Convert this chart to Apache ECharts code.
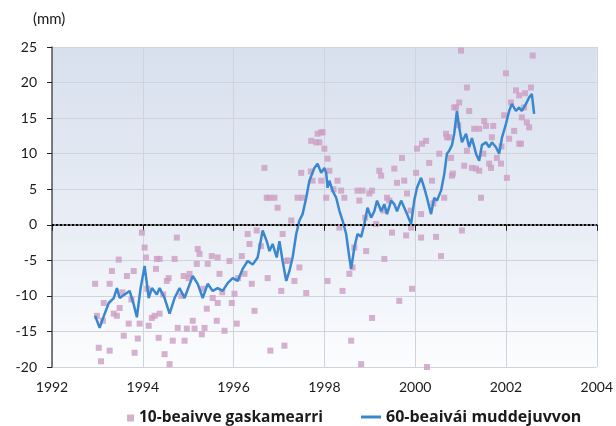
<!DOCTYPE html>
<html>
<head>
<meta charset="utf-8">
<script src="https://cdn.jsdelivr.net/npm/echarts@6/dist/echarts.min.js"></script>
<style>html,body{margin:0;padding:0;background:#fff;}#c{width:616px;height:426px;}</style>
</head>
<body>
<div id="c"></div>
<script>
var xTicks = [1992, 1994, 1996, 1998, 2000, 2002, 2004];
var yTicks = [-20, -15, -10, -5, 0, 5, 10, 15, 20, 25];
var seriesNames = ['10-beaivve gaskamearri', '60-beaivái muddejuvvon'];

// 10-day means [decimal year, mm]
var tenDay = [
[1992.95,-8.3],[1992.99,-12.8],[1993.03,-17.3],[1993.08,-19.2],[1993.12,-13.5],[1993.14,-11],[1993.27,-17.7],[1993.32,-6.5],[1993.27,-8.3],[1993.36,-12.5],[1993.43,-12.8],[1993.47,-4.9],[1993.49,-11.7],[1993.55,-9.5],[1993.58,-15.6],[1993.65,-7.2],[1993.69,-13.9],[1993.75,-10.5],[1993.80,-6.5],[1993.82,-18],[1993.89,-16],[1993.93,-13.9],[1993.98,-1.1],[1994.04,-3.2],[1994.07,-4.6],[1994.10,-9],[1994.13,-14.2],[1994.20,-13.1],[1994.26,-12.8],[1994.31,-4.8],[1994.37,-4.8],[1994.37,-12.5],[1994.29,-6.2],[1994.35,-15.9],[1994.45,-9.8],[1994.48,-18.2],[1994.59,-19.6],[1994.53,-7.9],[1994.57,-7.5],[1994.66,-16.3],[1994.70,-4.8],[1994.75,-1.8],[1994.77,-14.5],[1994.85,-10],[1994.90,-7.2],[1994.92,-16.3],[1995.01,-7.5],[1994.97,-14.6],
[1995.03,-6.9],[1995.10,-13.5],[1995.14,-14.6],[1995.19,-5.5],[1995.21,-3.4],[1995.25,-4.1],[1995.30,-15.4],[1995.33,-9],[1995.36,-14.5],[1995.41,-11.8],[1995.43,-5.5],[1995.52,-4.4],[1995.54,-10.3],[1995.63,-13.5],[1995.65,-4.6],[1995.65,-11],[1995.69,-6.9],[1995.75,-9.5],[1995.80,-14.9],[1995.91,-5.1],[1995.96,-11],[1996.02,-9.7],[1996.07,-13.9],[1996.10,-7.5],[1996.18,-4.4],[1996.24,-6.9],[1996.31,-1.3],[1996.35,-2.7],[1996.40,-8.3],[1996.46,-12.1],[1996.51,-0.8],[1996.60,-3],[1996.68,8.0],[1996.73,3.8],[1996.79,3.8],[1996.90,3.8],[1996.97,2.4],[1996.75,-7.5],[1996.81,-17.7],[1997.05,-9.3],[1997.08,-1.3],[1997.12,-17],[1997.16,-5.1],[1997.20,-5],[1997.27,0.6],[1997.34,-7.9],[1997.41,3.8],[1997.45,-6],[1997.49,7.3],[1997.52,3.8],[1997.60,-9.6],[1997.70,7.5],[1997.71,11.8],[1997.74,6.2],[1997.82,11.6],[1997.85,12.8],[1997.93,13],[1997.93,6.2],
[1997.96,13],[1997.89,11.6],[1998.00,10.7],[1998.07,9.3],[1998.11,7.6],[1998.04,3.8],[1998.20,5],[1998.29,6.2],[1998.37,4.8],[1998.44,3.8],[1998.07,-7.9],[1998.33,-0.4],[1998.40,-9.3],[1998.55,-6.9],[1998.59,-16.3],[1998.62,-6],[1998.66,-3.2],[1998.73,4.8],[1998.77,3.4],[1998.81,-19.6],[1998.84,4.8],[1998.90,1],[1998.92,-3.7],[1998.99,4.4],[1999.05,4.8],[1999.05,-13.1],[1999.14,0.1],[1999.21,7.6],[1999.25,6.9],[1999.30,2],[1999.32,-4.8],[1999.38,3.8],[1999.43,3.4],[1999.49,-1.1],[1999.54,7.9],[1999.60,5.9],[1999.65,-10.7],[1999.71,9.4],[1999.76,6.2],[1999.80,-1.5],[1999.82,4.4],[1999.90,2],[1999.91,-0.4],[1999.93,-9],[2000.02,7.3],[2000.04,10.7],[2000.13,1.5],[2000.13,-1.8],[2000.15,11.4],[2000.24,11.8],[2000.26,-20],[2000.31,8.7],[2000.37,6.2],[2000.40,3],[2000.46,-1.7],[2000.53,10],[2000.57,-4.4],[2000.64,3.8],[2000.68,12.8],[2000.70,12.3],[2000.81,6.9],[2000.90,16.5],
[2001.01,24.5],[2000.86,16.5],[2000.95,14],[2000.97,17.2],[2000.75,12.3],[2000.79,9.4],[2000.83,7.2],[2001.03,-0.8],[2001.14,19.3],[2001.19,16],[2001.14,10.4],[2001.08,8.3],[2001.25,8],[2001.34,7.9],[2001.41,7.6],[2001.45,3.8],[2001.30,13.5],[2001.41,13.5],[2001.50,10],[2001.52,14.6],[2001.56,13.9],[2001.63,8.6],[2001.67,8],[2001.69,12.3],[2001.72,13.9],[2001.80,9.4],[2001.89,8.6],[2001.90,11],[2001.96,15.4],[2002.00,21.3],[2002.02,6.6],[2002.07,12.1],[2002.11,17.2],[2002.18,13.2],[2002.22,18.9],[2002.29,18.2],[2002.29,11.4],[2002.33,11.4],[2002.35,15.1],[2002.40,16.5],[2002.42,18.5],[2002.46,14.4],[2002.51,13.7],[2002.55,19.3],[2002.59,23.8]
];

// 60-day running mean [decimal year, mm]
var sixtyDay = [
[1992.95,-12.8],[1993.05,-14.5],[1993.12,-13.2],[1993.25,-11],[1993.36,-10.3],[1993.43,-8.9],[1993.49,-10.3],[1993.60,-9.8],[1993.71,-9.3],[1993.80,-11.2],[1993.87,-13],[1993.95,-9],[1994.04,-5.8],[1994.13,-10.3],[1994.20,-8.9],[1994.31,-9.8],[1994.37,-8.9],[1994.48,-10.3],[1994.59,-12.5],[1994.70,-10.3],[1994.81,-8.9],[1994.92,-10.3],[1995.03,-8.4],[1995.10,-7.2],[1995.21,-8.3],[1995.32,-10.3],[1995.43,-8.3],[1995.54,-9.3],[1995.65,-8.9],[1995.76,-9.3],[1995.87,-8.2],[1995.98,-7.5],[1996.09,-7.9],[1996.20,-6.2],[1996.31,-5.1],[1996.42,-5.6],[1996.53,-4.6],[1996.64,-0.8],[1996.73,-2.3],[1996.79,-3.7],[1996.86,-2.7],[1996.95,-4.6],[1997.01,-2.3],[1997.08,-5.1],[1997.16,-7.9],[1997.23,-6.5],[1997.30,-4.6],[1997.38,-1.3],[1997.45,0.6],[1997.52,1.5],[1997.60,3.8],[1997.67,6.2],[1997.78,8.0],[1997.85,8.6],[1997.93,7.3],[1998.00,8.0],[1998.04,7.3],[1998.07,5.2],[1998.11,6.2],[1998.18,4.8],[1998.26,3.8],[1998.33,2.0],[1998.40,0.6],[1998.48,-1.3],[1998.55,-4.6],[1998.59,-6.2],[1998.66,-3.2],[1998.73,-1.3],[1998.81,-1.7],[1998.88,0.1],[1998.95,2.4],[1999.03,1.0],[1999.10,1.9],[1999.16,3.4],[1999.25,1.9],[1999.32,2.9],[1999.38,1.5],[1999.47,3.4],[1999.54,2.9],[1999.60,1.9],[1999.69,3.4],[1999.76,2.4],[1999.82,1.5],[1999.91,0.1],[1999.98,3.4],[2000.04,5.2],[2000.13,6.6],[2000.20,5.2],[2000.26,3.8],[2000.35,1.5],[2000.42,3.8],[2000.48,3.4],[2000.57,4.8],[2000.64,7.1],[2000.70,10.0],[2000.75,10.4],[2000.81,11.2],[2000.86,12.8],[2000.92,16.0],[2000.97,13.7],[2001.03,11.6],[2001.12,12.8],[2001.19,10.9],[2001.25,12.2],[2001.34,10.0],[2001.41,9.0],[2001.47,11.2],[2001.56,11.6],[2001.63,10.9],[2001.69,11.6],[2001.78,10.9],[2001.85,10.0],[2001.91,12.2],[2002.00,14.2],[2002.07,16.0],[2002.13,17.0],[2002.22,16.0],[2002.29,16.5],[2002.35,16.0],[2002.44,17.0],[2002.51,17.9],[2002.57,18.4],[2002.62,15.6]
];

var FONT = 'Lato';
var LEGFONT = 'Open Sans';
var chart = echarts.init(document.getElementById('c'), null, {renderer: 'canvas'});
chart.setOption({
  animation: false,
  backgroundColor: '#ffffff',
  textStyle: {fontFamily: FONT},
  grid: {
    left: 52, right: 18, top: 47, bottom: 59,
    show: true, borderWidth: 0,
    backgroundColor: {type: 'linear', x: 0, y: 0, x2: 0, y2: 1,
      colorStops: [{offset: 0, color: '#d8e0ee'}, {offset: 0.55, color: '#e8edf5'}, {offset: 1, color: '#fcfdfe'}]}
  },
  graphic: [{type: 'text', left: 33, top: 12, style: {text: '(mm)', font: '15px ' + FONT, fill: '#1a1a1a'}}],
  legend: [
    {data: [seriesNames[0]], left: 122, top: 405, icon: 'rect', itemWidth: 7, itemHeight: 7, itemGap: 5,
      textStyle: {fontFamily: LEGFONT, fontWeight: 'bold', fontSize: 15.5, color: '#1a1a1a'}},
    {data: [seriesNames[1]], left: 356, top: 404, icon: 'rect', itemWidth: 20, itemHeight: 3, itemGap: 5,
      textStyle: {fontFamily: LEGFONT, fontWeight: 'bold', fontSize: 16, color: '#1a1a1a'}}
  ],
  xAxis: {
    type: 'value', min: xTicks[0], max: xTicks[xTicks.length - 1], interval: 2,
    axisLine: {show: true, lineStyle: {color: '#777', width: 2}},
    axisTick: {show: true, length: 6, lineStyle: {color: '#222', width: 1}},
    axisLabel: {formatter: function (v) { return String(v); }, fontSize: 14, color: '#1a1a1a', margin: 13, fontFamily: FONT},
    splitLine: {show: true, lineStyle: {color: '#cfd3db', width: 1}}
  },
  yAxis: {
    type: 'value', min: yTicks[0], max: yTicks[yTicks.length - 1], interval: 5,
    axisLine: {show: true, onZero: false, lineStyle: {color: '#555', width: 1.5}},
    axisTick: {show: true, length: 5, lineStyle: {color: '#222', width: 1}},
    axisLabel: {fontSize: 14, color: '#1a1a1a', margin: 15, fontFamily: FONT},
    splitLine: {show: true, lineStyle: {color: '#cfd3db', width: 1}}
  },
  series: [
    {name: seriesNames[0], type: 'scatter', data: tenDay, symbol: 'rect', symbolSize: 6,
      itemStyle: {color: '#cc9dc3'}, z: 2},
    {name: seriesNames[1], type: 'line', data: sixtyDay, showSymbol: false, symbol: 'none',
      lineStyle: {color: '#3a87cd', width: 2.5}, itemStyle: {color: '#3a87cd'}, z: 3,
      markLine: {silent: true, symbol: ['none', 'none'], label: {show: false},
        lineStyle: {color: '#000', type: [2, 2], width: 2}, data: [{yAxis: 0}]}}
  ]
});
</script>
</body>
</html>
